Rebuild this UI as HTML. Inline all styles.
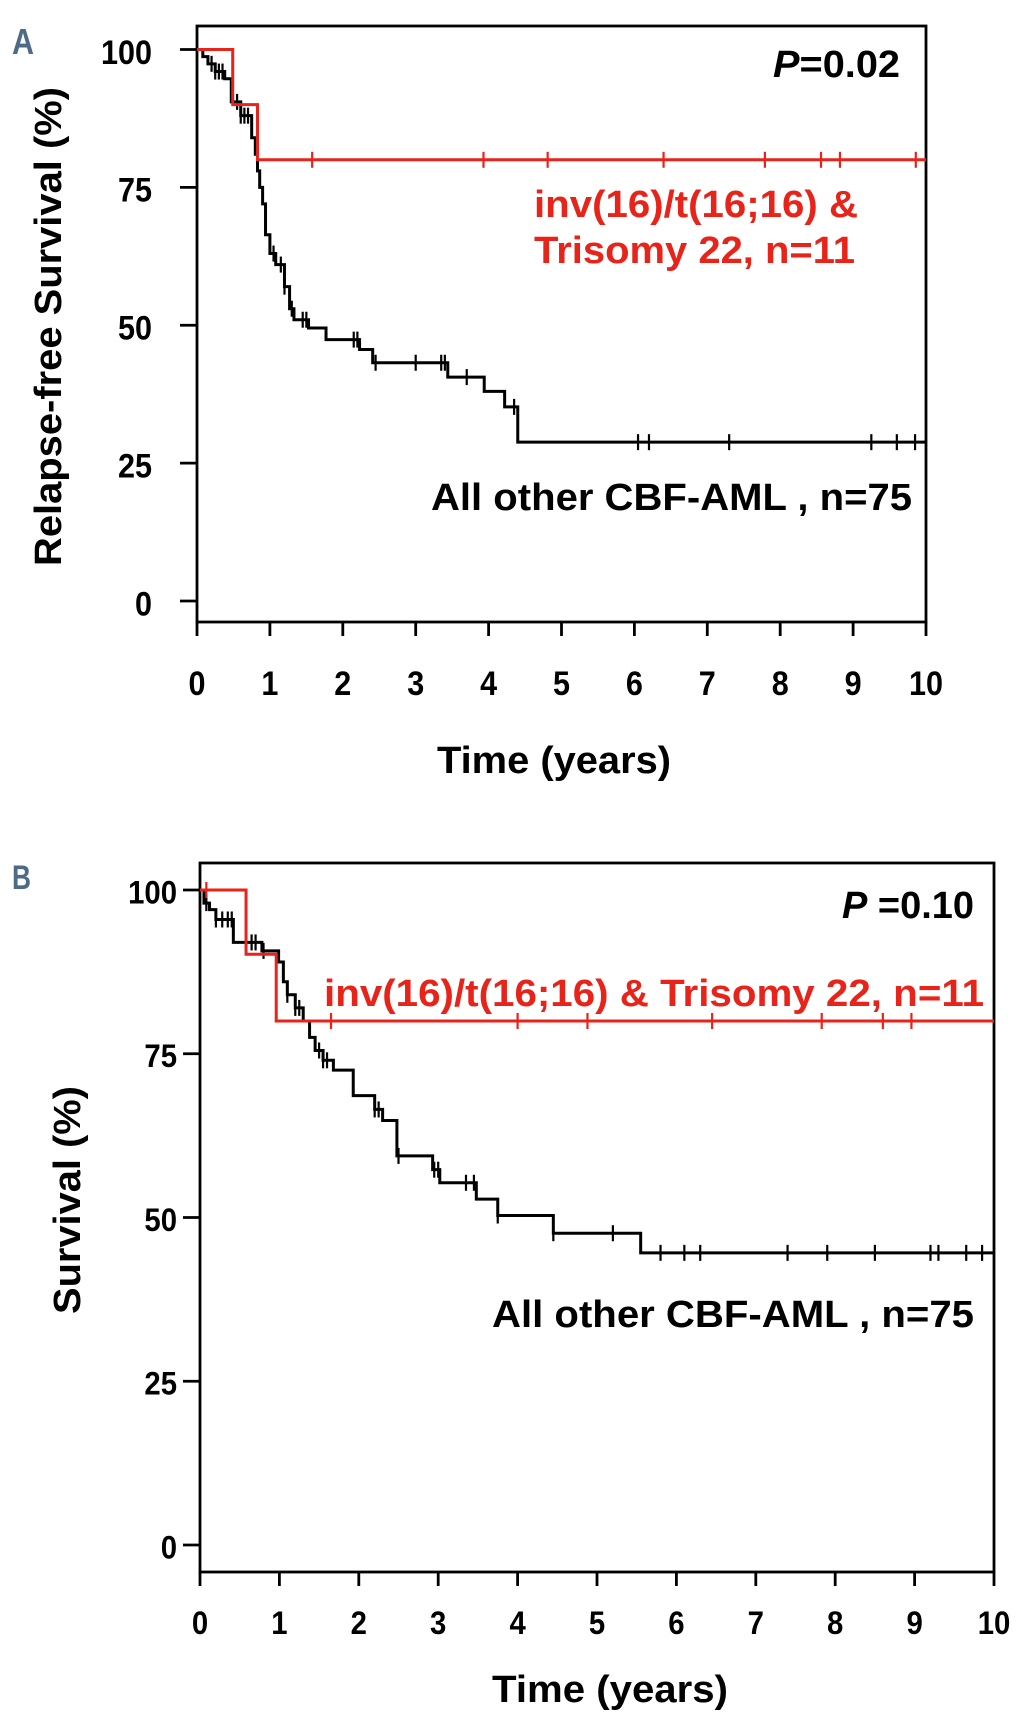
<!DOCTYPE html>
<html><head><meta charset="utf-8"><style>
html,body{margin:0;padding:0;background:#fff;}
svg{display:block;font-family:"Liberation Sans",Arial,sans-serif;font-weight:bold;}
</style></head>
<body>
<svg id="chart" width="1026" height="1735" viewBox="0 0 1026 1735" xmlns="http://www.w3.org/2000/svg">
<text x="12" y="54" font-size="36" fill="#4d6a86" textLength="22" lengthAdjust="spacingAndGlyphs">A</text>
<text x="12" y="889" font-size="34" fill="#4d6a86" textLength="19" lengthAdjust="spacingAndGlyphs">B</text>
<g id="pa"></g>
<g id="pb"></g>
</svg>
<script>
const xTicks = [0,1,2,3,4,5,6,7,8,9,10];
const yTicks = [0,25,50,75,100];
// Panel A: relapse-free survival
const aBlackTimes = [0.08,0.15,0.25,0.38,0.47,0.6,0.75,0.8,0.83,0.86,0.9,0.94,1.0,1.08,1.2,1.27,1.33,1.4,1.53,1.77,2.23,2.41,3.44,3.94,4.22,4.4];
const aBlackSurv  = [98.7,97.4,96,94.7,90.5,88,84,81,78,75,72,66.4,63,61,57,53,51,51,49.5,47.4,45.6,43.2,40.6,38,35.2,28.8];
const aBlackCens  = [0.2,0.25,0.3,0.35,0.55,0.6,0.65,0.7,1.05,1.15,1.2,1.3,1.45,1.5,2.15,2.2,2.45,3.0,3.35,3.4,3.7,4.35,6.05,6.2,7.3,9.25,9.6,9.85];
const aRedTimes = [0.49,0.83];
const aRedSurv  = [90,80];
const aRedCens  = [1.58,3.93,4.81,6.4,7.79,8.56,8.82,9.86];
// Panel B: overall survival
const bBlackTimes = [0.05,0.12,0.2,0.42,0.78,0.99,1.05,1.1,1.2,1.3,1.38,1.45,1.55,1.68,1.93,2.2,2.3,2.48,2.93,3.02,3.48,3.75,4.45,5.55];
const bBlackSurv  = [98,97,95.5,92,90.7,89,86,84,82,80,77.5,75.5,74,72.5,68.6,66.5,64.8,59.4,57.3,55.3,52.8,50.3,47.6,44.6];
const bBlackCens  = [0.08,0.2,0.28,0.35,0.4,0.65,0.7,0.8,1.1,1.2,1.25,1.5,1.55,1.6,2.2,2.25,2.5,2.95,3.0,3.35,3.45,3.75,4.45,5.2,5.8,6.1,6.3,7.4,7.9,8.5,9.2,9.3,9.65,9.85];
const bRedTimes = [0.58,0.96];
const bRedSurv  = [90.2,80];
const bRedCens  = [0.08,1.65,4.0,4.88,6.45,7.83,8.6,8.96];

const NS='http://www.w3.org/2000/svg';
function mk(parent,tag,attrs,txt){const e=document.createElementNS(NS,tag);for(const k in attrs)e.setAttribute(k,attrs[k]);if(txt!==undefined)e.textContent=txt;parent.appendChild(e);return e;}

function panel(g,c){
  const sx=v=>c.x0+(c.x1-c.x0)*v/10;
  const sy=v=>c.y0+(c.y100-c.y0)*v/100;
  const box=mk(g,'rect',{x:c.x0,y:c.top,width:c.x1-c.x0,height:c.bottom-c.top,fill:'none',stroke:'#000','stroke-width':2.8});
  
  
  xTicks.forEach(t=>{
    const l=mk(g,'line',{x1:sx(t),x2:sx(t),y1:c.bottom,y2:c.bottom+14,stroke:'#000','stroke-width':2.8});
    
    
    const s=String(t);
    const tx=mk(g,'text',{x:sx(t),y:c.xLabY,'font-size':c.tf,'text-anchor':'middle',textLength:c.cw*s.length,lengthAdjust:'spacingAndGlyphs'},s);
    
    
  });
  yTicks.forEach(t=>{
    const l=mk(g,'line',{x1:c.x0-17,x2:c.x0,y1:sy(t),y2:sy(t),stroke:'#000','stroke-width':2.8});
    
    
    const s=String(t);
    const tx=mk(g,'text',{x:c.yLabX,y:sy(t)+c.tf*0.42,'font-size':c.tf,'text-anchor':'end',textLength:c.cw*s.length,lengthAdjust:'spacingAndGlyphs'},s);
    
    
  });
  function curve(times,surv,cens,color,name){
    let d='M'+sx(0)+','+sy(100);
    times.forEach((t,i)=>{d+=' H'+sx(t)+' V'+sy(surv[i]);});
    d+=' H'+sx(10);
    const p=mk(g,'path',{d:d,fill:'none',stroke:color,'stroke-width':3});
    
    
    cens.forEach(t=>{
      let v=100;times.forEach((tt,i)=>{if(tt<=t)v=surv[i];});
      const l=mk(g,'line',{x1:sx(t),x2:sx(t),y1:sy(v)-8,y2:sy(v)+8,stroke:color,'stroke-width':2.2});
      
      
    });
  }
  curve(c.bt,c.bs,c.bc,'#000','other-cbf-aml');
  curve(c.rt,c.rs,c.rc,'#e8231a','trisomy22');
  c.texts.forEach(o=>{
    const tx=mk(g,'text',{x:o.x,y:o.y,'font-size':o.fs,fill:o.fill||'#000',textLength:o.w,lengthAdjust:'spacingAndGlyphs',transform:o.rot?('rotate(-90 '+o.x+' '+o.y+')'):''});
    if(o.html){tx.innerHTML=o.html;}else tx.textContent=o.t;
    
    
  });
}

panel(document.getElementById('pa'),{x0:197,x1:926,top:26,bottom:622,y0:601,y100:49.5,tf:34,cw:17,xLabY:695,yLabX:152,
  bt:aBlackTimes,bs:aBlackSurv,bc:aBlackCens,rt:aRedTimes,rs:aRedSurv,rc:aRedCens,
  texts:[
    {x:773,y:77,fs:38,w:127,html:'<tspan font-style="italic">P</tspan>=0.02',name:'p-value-a'},
    {x:534,y:217,fs:38,w:324,fill:'#e8231a',t:'inv(16)/t(16;16) &',name:'legend-trisomy22-line1'},
    {x:534,y:263,fs:38,w:321,fill:'#e8231a',t:'Trisomy 22, n=11',name:'legend-trisomy22-line2'},
    {x:431,y:510,fs:38,w:481,t:'All other CBF-AML , n=75',name:'legend-other-cbf-aml'},
    {x:437,y:773,fs:38,w:234,t:'Time (years)',name:'x-axis-title'},
    {x:61,y:566,fs:38,w:479,rot:true,t:'Relapse-free Survival (%)',name:'y-axis-title'}
  ]});

panel(document.getElementById('pb'),{x0:200,x1:994,top:863,bottom:1572,y0:1545,y100:890,tf:32,cw:16.3,xLabY:1634,yLabX:177,
  bt:bBlackTimes,bs:bBlackSurv,bc:bBlackCens,rt:bRedTimes,rs:bRedSurv,rc:bRedCens,
  texts:[
    {x:842,y:918,fs:38,w:132,html:'<tspan font-style="italic">P</tspan> =0.10',name:'p-value-b'},
    {x:324,y:1006,fs:38,w:660,fill:'#e8231a',t:'inv(16)/t(16;16) & Trisomy 22, n=11',name:'legend-trisomy22'},
    {x:492,y:1327,fs:38,w:482,t:'All other CBF-AML , n=75',name:'legend-other-cbf-aml'},
    {x:492,y:1702,fs:38,w:236,t:'Time (years)',name:'x-axis-title'},
    {x:80,y:1314,fs:38,w:228,rot:true,t:'Survival (%)',name:'y-axis-title'}
  ]});
</script>
</body></html>
